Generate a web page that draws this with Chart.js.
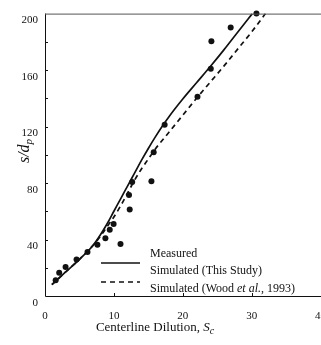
<!DOCTYPE html>
<html>
<head>
<meta charset="utf-8">
<script src="https://cdn.jsdelivr.net/npm/chart.js@4/dist/chart.umd.min.js"></script>
<style>
  html, body { margin: 0; padding: 0; background: #fff; overflow: hidden; }
  #wrap { width: 340px; height: 345px; }
</style>
</head>
<body>
<div id="wrap"><canvas id="plumeChart" width="340" height="345"></canvas></div>
<script>
// measured s/dp against centerline dilution
const measuredSc  = [1.55, 2.06, 2.99, 4.58, 6.17, 7.61, 8.77, 9.4, 9.96, 12.3, 12.2, 12.66, 15.45, 15.78, 17.37, 22.14, 24.07, 24.16, 26.96, 30.7];
const measuredSdp = [11.2, 16.4, 20.6, 25.8, 31.1, 36.3, 40.9, 47, 51.0, 61.3, 71.6, 80.7, 81.2, 101.8, 121.2, 141.1, 160.9, 180.4, 190.2, 200];

// simulated, this study (solid)
const thisStudySc  = [1, 3, 5, 7, 8, 9, 10, 11, 12, 13, 14, 15, 16, 17, 18, 20, 22, 24, 26, 28, 30.1];
const thisStudySdp = [8, 17, 26, 36, 43, 51, 60, 69, 78, 87, 96, 104.5, 112.5, 120, 127, 139.5, 151, 162.5, 174.5, 187, 200];

// simulated, Wood et al. 1993 (dashed)
const woodSc  = [1, 3, 5, 7, 8, 9, 10, 11, 12, 13, 14, 15, 16, 18, 20, 22, 24, 26, 28, 30, 32];
const woodSdp = [8, 17, 26, 36, 42, 49, 56, 64, 73, 82, 90, 97, 104, 116, 128, 140, 151.5, 163, 175, 187, 200];

const xTickValues = [0, 10, 20, 30, 40];
const yTickValues = [0, 40, 80, 120, 160, 200];
const legendLabels = ['Measured', 'Simulated (This Study)', 'Simulated (Wood '];

const INK = '#111';
const SERIF = '"Liberation Serif", "DejaVu Serif", serif';

function toPoints(xs, ys) {
    return xs.map((x, i) => ({ x: x, y: ys[i] }));
}

// draws a run of [text, font, dy] pieces one after another
function drawPieces(ctx, pieces, x, y) {
    let cx = x;
    pieces.forEach(p => {
        ctx.font = p[1];
        ctx.fillText(p[0], cx, y + (p[2] || 0));
        cx += ctx.measureText(p[0]).width;
    });
    return cx;
}

function piecesWidth(ctx, pieces) {
    let w = 0;
    pieces.forEach(p => { ctx.font = p[1]; w += ctx.measureText(p[0]).width; });
    return w;
}

const framePlugin = {
    id: 'framePlugin',
    afterDraw(chart) {
        const ctx = chart.ctx;
        const area = chart.chartArea;
        const xs = chart.scales.x;
        const ys = chart.scales.y;

        ctx.save();
        ctx.strokeStyle = INK;
        ctx.lineWidth = 1;

        // left and bottom axis
        ctx.beginPath();
        ctx.moveTo(area.left + 0.5, area.top);
        ctx.lineTo(area.left + 0.5, area.bottom + 0.5);
        ctx.lineTo(chart.width, area.bottom + 0.5);
        ctx.stroke();

        // top border
        ctx.strokeStyle = '#555';
        ctx.beginPath();
        ctx.moveTo(area.left, area.top + 0.5);
        ctx.lineTo(chart.width, area.top + 0.5);
        ctx.stroke();

        // inward ticks
        ctx.strokeStyle = INK;
        ctx.beginPath();
        for (let v = 20; v < 200; v += 20) {
            const py = Math.round(ys.getPixelForValue(v)) + 0.5;
            ctx.moveTo(area.left, py);
            ctx.lineTo(area.left + 3, py);
        }
        xTickValues.forEach(v => {
            if (v === 0) return;
            const px = Math.round(xs.getPixelForValue(v)) + 0.5;
            ctx.moveTo(px, area.bottom);
            ctx.lineTo(px, area.bottom - 3);
        });
        ctx.stroke();

        ctx.fillStyle = INK;
        ctx.textBaseline = 'middle';
        ctx.textAlign = 'left';

        // legend
        const symL = area.left + 56, symR = area.left + 95, textX = area.left + 105;
        const legFont = '12px ' + SERIF;
        const legItalic = 'italic 12px ' + SERIF;

        ctx.beginPath();
        ctx.arc((symL + symR) / 2, area.bottom - 52, 3, 0, Math.PI * 2);
        ctx.fill();
        drawPieces(ctx, [[legendLabels[0], legFont]], textX, area.bottom - 42);

        ctx.lineWidth = 1.6;
        ctx.beginPath();
        ctx.moveTo(symL, area.bottom - 33);
        ctx.lineTo(symR, area.bottom - 33);
        ctx.stroke();
        drawPieces(ctx, [[legendLabels[1], legFont]], textX, area.bottom - 25);

        ctx.setLineDash([5, 4]);
        ctx.beginPath();
        ctx.moveTo(symL, area.bottom - 14);
        ctx.lineTo(symR, area.bottom - 14);
        ctx.stroke();
        ctx.setLineDash([]);
        drawPieces(ctx, [[legendLabels[2], legFont], ['et al.', legItalic], [', 1993)', legFont]], textX, area.bottom - 7);

        // x axis title
        const xTitle = [
            ['Centerline Dilution, ', '13px ' + SERIF],
            ['S', 'italic 13px ' + SERIF],
            ['c', 'italic 10px ' + SERIF, 3]
        ];
        const xw = piecesWidth(ctx, xTitle);
        drawPieces(ctx, xTitle, 155 - xw / 2, 328);

        // y axis title
        const yTitle = [
            ['s/d', 'italic 16px ' + SERIF],
            ['p', 'italic 11px ' + SERIF, 4]
        ];
        const yw = piecesWidth(ctx, yTitle);
        ctx.translate(25, 151);
        ctx.rotate(-Math.PI / 2);
        drawPieces(ctx, yTitle, -yw / 2, 0);

        ctx.restore();
    }
};

document.addEventListener('DOMContentLoaded', () => {
    const ctx = document.getElementById('plumeChart').getContext('2d');

    new Chart(ctx, {
        type: 'scatter',
        data: {
            datasets: [
                {
                    label: 'Measured',
                    data: toPoints(measuredSc, measuredSdp),
                    pointRadius: 3,
                    pointBackgroundColor: INK,
                    pointBorderWidth: 0,
                    clip: false
                },
                {
                    label: 'Simulated (This Study)',
                    data: toPoints(thisStudySc, thisStudySdp),
                    showLine: true,
                    borderColor: INK,
                    borderWidth: 1.7,
                    pointRadius: 0,
                    cubicInterpolationMode: 'monotone',
                    fill: false
                },
                {
                    label: 'Simulated (Wood et al., 1993)',
                    data: toPoints(woodSc, woodSdp),
                    showLine: true,
                    borderColor: INK,
                    borderWidth: 1.7,
                    borderDash: [5, 4],
                    pointRadius: 0,
                    cubicInterpolationMode: 'monotone',
                    fill: false
                }
            ]
        },
        options: {
            responsive: false,
            animation: false,
            layout: { padding: { top: 11, right: 18, left: 0, bottom: 0 } },
            plugins: {
                legend: { display: false },
                tooltip: { enabled: false }
            },
            scales: {
                x: {
                    type: 'linear',
                    min: 0,
                    max: 40,
                    grid: { display: false, drawTicks: false },
                    border: { display: false },
                    ticks: {
                        stepSize: 10,
                        padding: 14,
                        color: INK,
                        font: { family: SERIF, size: 11 },
                        callback: v => xTickValues.includes(v) ? v : ''
                    },
                    afterFit: s => { s.height = 49; }
                },
                y: {
                    min: 0,
                    max: 200,
                    grid: { display: false, drawTicks: false },
                    border: { display: false },
                    ticks: {
                        stepSize: 20,
                        autoSkip: false,
                        padding: 7,
                        labelOffset: 7,
                        color: INK,
                        font: { family: SERIF, size: 11 },
                        callback: v => yTickValues.includes(v) ? v : ''
                    },
                    afterFit: s => { s.width = 45; }
                }
            }
        },
        plugins: [framePlugin]
    });
});
</script>
</body>
</html>
